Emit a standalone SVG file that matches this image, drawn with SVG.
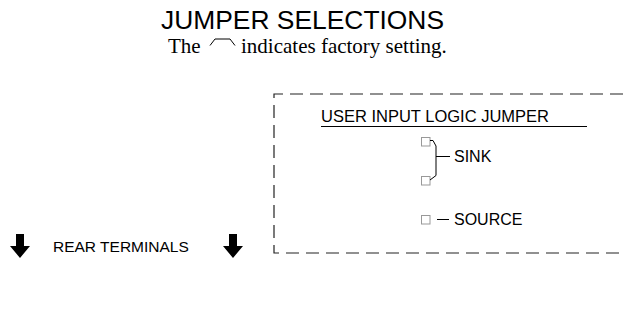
<svg xmlns="http://www.w3.org/2000/svg" width="623" height="320" viewBox="0 0 623 320">
<style>
.sans{font-family:"Liberation Sans",Arial,sans-serif;fill:#000}
.serif{font-family:"Liberation Serif","Times New Roman",serif;fill:#000}
.pin{fill:#fff;stroke:#999;stroke-width:1}
.ln{fill:none;stroke:#000;stroke-width:1}
.dash{fill:none;stroke:#222;stroke-width:1.2;stroke-dasharray:13 7}
</style>
<rect width="623" height="320" fill="#fff"/>
<g id="title">
<text class="sans" x="161" y="29" font-size="26.4">JUMPER SELECTIONS</text>
<text class="serif" x="168" y="53" font-size="21">The</text>
<path class="ln" d="M210,45.5 L215,39 H230 L235,45.5"/>
<text class="serif" x="241" y="53" font-size="21">indicates factory setting.</text>
</g>
<g id="jumper-box">
<path class="dash" d="M623,94 H274 V253 H623"/>
<text class="sans" x="321" y="122" font-size="16.5">USER INPUT LOGIC JUMPER</text>
<line class="ln" x1="321" y1="126.5" x2="587" y2="126.5"/>
</g>
<g id="sink">
<rect class="pin" x="421.5" y="137.5" width="8.5" height="8.5"/>
<rect class="pin" x="421.5" y="176.5" width="8.5" height="8.5"/>
<path class="ln" d="M430,140.5 H433 L436,146 V175.5 L430,180"/>
<line class="ln" x1="436" y1="156.5" x2="450" y2="156.5"/>
<text class="sans" x="454" y="162" font-size="16">SINK</text>
</g>
<g id="source">
<rect class="pin" x="421.5" y="215.5" width="8.5" height="8.5"/>
<line class="ln" x1="437" y1="219.5" x2="449" y2="219.5"/>
<text class="sans" x="454" y="225" font-size="16">SOURCE</text>
</g>
<g id="rear-terminals">
<path d="M16,234 H24 V246 H30 L20,258 L10,246 H16 Z" fill="#000"/>
<text class="sans" x="53" y="252" font-size="15.5">REAR TERMINALS</text>
<path d="M229,234 H237 V246 H243 L233,258 L223,246 H229 Z" fill="#000"/>
</g>
</svg>
